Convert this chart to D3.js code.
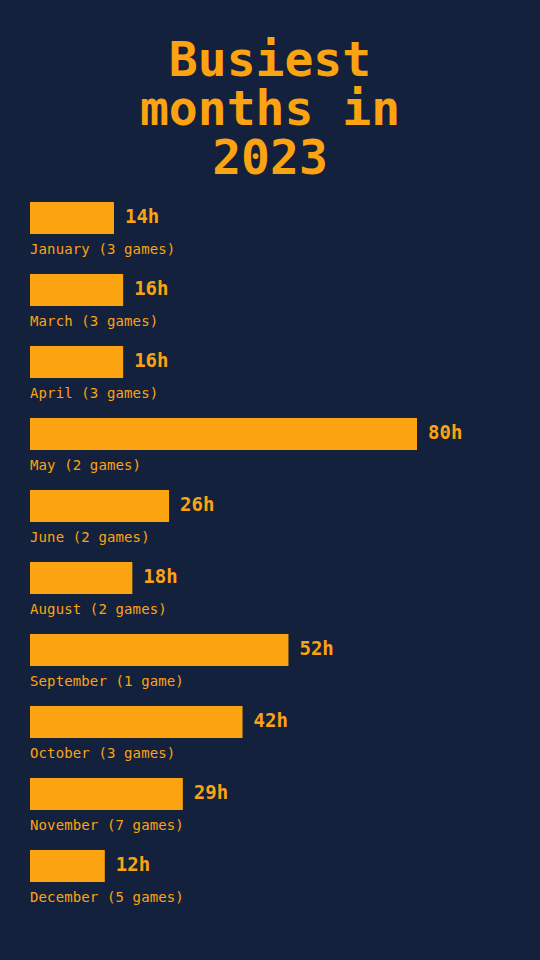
<!DOCTYPE html>
<html><head><meta charset="utf-8">
<script src="https://cdn.jsdelivr.net/npm/d3@7"></script>
<style>html,body{margin:0;padding:0;background:#14213d;}svg{display:block;}</style>
</head><body>
<script>
const months = ["January","March","April","May","June","August","September","October","November","December"];
const hours = [14,16,16,80,26,18,52,42,29,12];
const games = ["3 games","3 games","3 games","2 games","2 games","2 games","1 game","3 games","7 games","5 games"];
const titleLines = ["Busiest","months in","2023"];

const W=540,H=960,bg="#14213d",fg="#fca311";
const font="'DejaVu Sans Mono','Liberation Mono',monospace";
const svg=d3.select("body").append("svg").attr("width",W).attr("height",H);
svg.append("rect").attr("width",W).attr("height",H).attr("fill",bg);

svg.append("text").attr("text-anchor","middle").attr("fill",fg)
  .attr("font-family",font).attr("font-weight","bold").attr("font-size",48)
  .selectAll("tspan").data(titleLines).join("tspan")
  .attr("x",W/2).attr("y",(d,i)=>76+i*49)
  .text(d=>d);

const y=d3.scaleBand().domain(months).range([202,202+72*months.length]).paddingInner(0).paddingOuter(0);
const x=d3.scaleLinear().domain([0,80]).range([19.7,387]);
const left=30;

const g=svg.append("g");
const rows=g.selectAll("g").data(months).join("g")
  .attr("transform",d=>`translate(${left},${y(d)})`);
rows.append("rect").attr("x",0).attr("y",0).attr("height",32)
  .attr("width",(d,i)=>x(hours[i])).attr("fill",fg);
rows.append("text").attr("x",(d,i)=>x(hours[i])+11).attr("y",21)
  .attr("fill",fg).attr("font-family",font).attr("font-weight","bold").attr("font-size",19)
  .text((d,i)=>hours[i]+"h");
rows.append("text").attr("x",0).attr("y",52)
  .attr("fill",fg).attr("font-family",font).attr("font-size",14).attr("letter-spacing",0.12)
  .text((d,i)=>`${d} (${games[i]})`);
</script>
</body></html>
